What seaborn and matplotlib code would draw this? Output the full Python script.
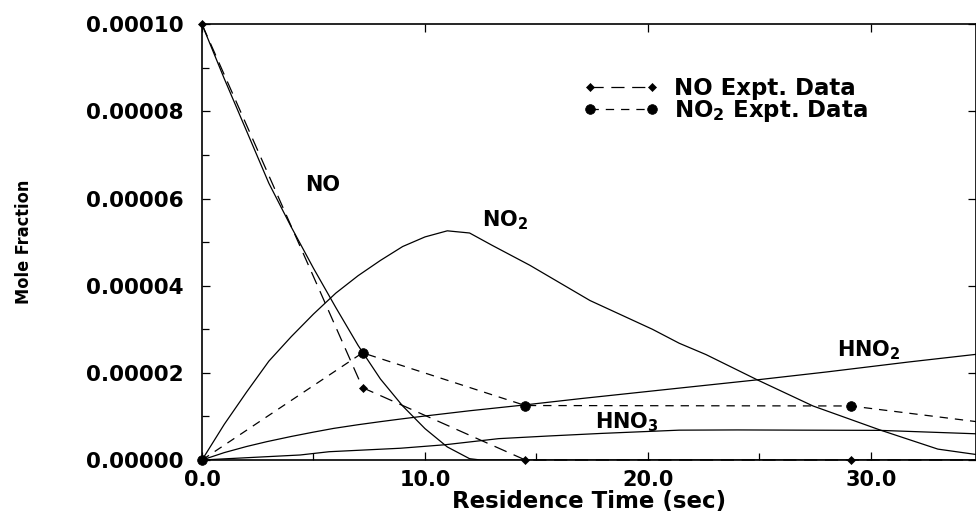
import numpy as np
import pandas as pd
import matplotlib
matplotlib.use('Agg')
import matplotlib.pyplot as plt
import seaborn as sns
from matplotlib.ticker import MultipleLocator, FormatStrFormatter

# ---- data (mole fraction values in units of 1e-6) ----
t_no_model = [0, 1, 2, 3, 4, 5, 6, 7, 8, 9, 10, 11, 12, 12.5, 35]
no_model = [100, 87.5, 75.5, 63.5, 53.5, 44.0, 35.0, 26.3, 18.6, 12.4, 7.2, 3.0, 0.3, 0, 0]

t_no2_model = [0, 1, 2, 3, 4, 5, 6, 7, 8, 9, 10, 11, 12, 13, 14.7, 17.4, 20.2,
               21.4, 22.6, 24.9, 27.4, 30.4, 33.0, 34.8]
no2_model = [0, 8.2, 15.6, 22.7, 28.3, 33.5, 38.3, 42.3, 45.8, 49.0, 51.2, 52.6, 52.1,
             49.3, 44.7, 36.6, 30.0, 26.8, 24.2, 18.4, 12.4, 6.9, 2.5, 1.2]

t_hno2_model = [0, 1, 2, 2.9, 4, 5, 5.9, 7, 8, 8.9, 10, 12, 14.4, 17, 21.4, 24.9, 28, 31.7, 34.8]
hno2_model = [0, 1.7, 3.1, 4.2, 5.4, 6.4, 7.25, 8.1, 8.8, 9.4, 10.1, 11.3, 12.6, 14.1,
              16.5, 18.4, 20.2, 22.5, 24.3]

t_hno3_model = [0, 4.4, 5.7, 8.9, 10.9, 13.3, 15.5, 17.9, 21.4, 24, 27, 30.4, 34.8]
hno3_model = [0, 1.15, 1.9, 2.7, 3.5, 4.9, 5.5, 6.1, 6.85, 6.9, 6.85, 6.8, 6.0]

t_no_expt = [0, 7.2, 14.5, 29.1, 36.3]
no_expt = [100, 16.6, 0, 0, 0]

t_no2_expt = [0, 7.2, 14.5, 29.1, 36.3]
no2_expt = [0, 24.6, 12.5, 12.4, 7.8]

x_label = "Residence Time (sec)"
y_label = "Mole Fraction"
scale = 1e-6

# ---- style ----
sns.set_theme(style='ticks')
plt.rcParams['font.family'] = ['DejaVu Sans']
plt.rcParams['font.weight'] = 'bold'
plt.rcParams['text.color'] = 'black'
plt.rcParams['axes.labelcolor'] = 'black'
plt.rcParams['mathtext.fontset'] = 'dejavusans'
plt.rcParams['mathtext.default'] = 'bf'
plt.rcParams['lines.scale_dashes'] = False

fig = plt.figure(figsize=(9.76, 5.12), dpi=100)
ax = fig.add_axes([202 / 976, 1 - 460 / 512, 774 / 976, 435.7 / 512])

lw = 0.9
for tt, vv in [(t_no_model, no_model), (t_no2_model, no2_model),
               (t_hno2_model, hno2_model), (t_hno3_model, hno3_model)]:
    sns.lineplot(x=tt, y=np.array(vv) * scale, ax=ax, color='black', lw=lw,
                 estimator=None, sort=False)

sns.lineplot(x=t_no_expt, y=np.array(no_expt) * scale, ax=ax, color='black', lw=lw,
             marker='D', markersize=4.2, mec='black', mew=0.5,
             estimator=None, sort=False, label='NO Expt. Data', clip_on=False)
line_no = ax.lines[-1]
sns.lineplot(x=t_no2_expt, y=np.array(no2_expt) * scale, ax=ax, color='black', lw=lw,
             marker='o', markersize=7, mec='black', mew=0.5,
             estimator=None, sort=False, label='NO$_2$ Expt. Data', clip_on=False)
line_no2 = ax.lines[-1]
line_no.set_linestyle((0, (9.5, 5.5)))
line_no2.set_linestyle((0, (6, 5)))

ax.set_xlim(0, 34.71)
ax.set_ylim(0, 100 * scale)

ax.xaxis.set_major_locator(MultipleLocator(10))
ax.xaxis.set_minor_locator(MultipleLocator(5))
ax.xaxis.set_major_formatter(FormatStrFormatter('%.1f'))
ax.yaxis.set_major_locator(MultipleLocator(20 * scale))
ax.yaxis.set_minor_locator(MultipleLocator(10 * scale))
ax.yaxis.set_major_formatter(FormatStrFormatter('%.5f'))

for s in ax.spines.values():
    s.set_linewidth(1.2)
    s.set_color('black')

ax.tick_params(which='both', direction='in', top=True, right=True, color='black',
               width=0.9, labelsize=15, labelcolor='black')
ax.tick_params(which='major', length=6)
ax.tick_params(which='minor', length=5, top=False, right=False)
ax.tick_params(axis='y', pad=13, labelsize=15.5)
ax.tick_params(axis='x', pad=7)

ax.set_xlabel(x_label, fontsize=16.5, fontweight='bold', color='black', va='top')
ax.xaxis.set_label_coords(0.5, -0.069)
ax.set_ylabel(y_label, fontsize=13, fontweight='bold', color='black',
              family='DejaVu Sans', fontstretch='condensed')
ax.yaxis.set_label_coords(-0.218, 0.5)

# curve labels
ax.text(4.62, 61.7 * scale, "NO", fontsize=15, fontweight='bold', va='baseline')
ax.text(12.56, 53.7 * scale, "NO$_2$", fontsize=15, fontweight='bold', va='baseline')
ax.text(28.46, 23.7 * scale, "HNO$_2$", fontsize=15, fontweight='bold', va='baseline')
ax.text(17.62, 7.3 * scale, "HNO$_3$", fontsize=15, fontweight='bold', va='baseline')

handles, labels = ax.get_legend_handles_labels()
leg = ax.legend(handles, labels, loc='upper left', bbox_to_anchor=(0.492, 0.879),
                frameon=False, fontsize=16.5, numpoints=2, handlelength=3.3,
                handletextpad=0.7, labelspacing=-0.08, borderpad=0, borderaxespad=0)
for txt in leg.get_texts():
    txt.set_fontweight('bold')
    txt.set_color('black')
leg.legend_handles[0].set_linestyle((0, (9.5, 5.5)))
leg.legend_handles[1].set_linestyle((0, (6, 5)))

fig.savefig('out.png', dpi=100)
